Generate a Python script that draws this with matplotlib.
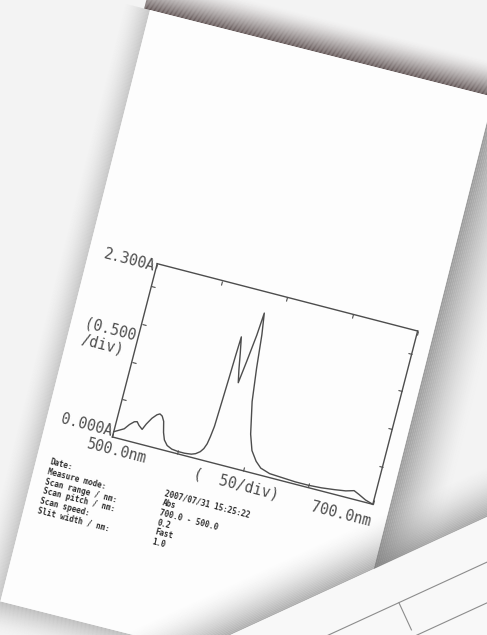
import numpy as np
import matplotlib
matplotlib.use('Agg')
import matplotlib.pyplot as plt
from matplotlib.patches import Polygon
from matplotlib.transforms import Affine2D
from mpl_toolkits.axisartist import floating_axes
from mpl_toolkits.axisartist.grid_finder import FixedLocator

# spectrum (nm, Abs)
wavelength = [500, 503, 507, 510, 513, 515, 517, 520, 522, 525, 528, 530, 532,
              534, 536, 538, 541, 545, 550, 555, 560, 563, 566, 568, 569.5,
              570.5, 571.5, 572.3, 573.0, 573.6, 574.2, 576.5, 578.5, 580.5,
              582.6, 585.0, 586.3, 588.6, 591.0, 594.0, 599.0, 603.0, 608.0,
              612.6, 620, 630, 640, 650, 660, 670, 678, 684, 688, 694, 700]
absorbance = [0.07, 0.10, 0.14, 0.21, 0.26, 0.27, 0.23, 0.19, 0.27, 0.36, 0.42,
              0.44, 0.42, 0.36, 0.22, 0.13, 0.07, 0.04, 0.03, 0.03, 0.04, 0.06,
              0.10, 0.15, 0.22, 0.32, 0.46, 0.80, 1.11, 1.42, 1.66, 1.45, 1.25,
              1.08, 1.37, 1.73, 2.03, 1.75, 1.32, 0.89, 0.48, 0.28, 0.16, 0.09,
              0.05, 0.04, 0.03, 0.03, 0.04, 0.06, 0.08, 0.11, 0.08, 0.03, 0.0]

x_range = (500, 700)
y_range = (0.0, 2.3)
x_ticks = [500, 550, 600, 650, 700]
y_ticks = [0.5, 1.0, 1.5, 2.0]

info_labels = ['Date:', 'Measure mode:', 'Scan range / nm:', 'Scan pitch / nm:',
               'Scan speed:', 'Slit width / nm:']
info_values = ['2007/07/31 15:25:22', 'Abs', '700.0 - 500.0', '0.2', 'Fast', '1.0']

W, H = 487, 635
ink = '#4d4d4d'
mono = 'DejaVu Sans Mono'

fig = plt.figure(figsize=(W / 100, H / 100), dpi=100, facecolor='#f3f3f3')

# ---- the photographed paper (pixel coordinates, y down) ----
bg = fig.add_axes([0, 0, 1, 1], zorder=0)
bg.set_xlim(0, W)
bg.set_ylim(H, 0)
bg.axis('off')


def band(ax, p0, p1, normal, width, color, alpha, n=30):
    p0, p1 = np.asarray(p0, float), np.asarray(p1, float)
    nrm = np.asarray(normal, float) / np.linalg.norm(normal)
    for i in range(n):
        d0, d1 = width * i / n, width * (i + 1) / n
        a = alpha * (1 - i / n) ** 1.6
        quad = [p0 + nrm * d0, p1 + nrm * d0, p1 + nrm * d1, p0 + nrm * d1]
        ax.add_patch(Polygon(quad, closed=True, fc=color, ec='none', alpha=a))


tilt = np.deg2rad(14.2)
along = np.array([np.cos(tilt), np.sin(tilt)])
down = np.array([-np.sin(tilt), np.cos(tilt)])
tl = np.array([150.0, 10.0])
paper = [tl, tl + 354 * along, tl + 354 * along + 610 * down, tl + 610 * down]

band(bg, paper[0] - 6 * along, paper[1], -down, 34, '#4a3b3b', 0.85)
band(bg, paper[0], paper[3], -along, 26, '#8f8f8f', 0.45)
band(bg, paper[1], paper[2], along, 55, '#7a7a7a', 0.7)
band(bg, paper[3], paper[2], down, 30, '#8a8a8a', 0.5)
bg.add_patch(Polygon(paper, closed=True, fc='#fdfdfd', ec='none'))

# second sheet lying over the bottom right corner
edge_pt = np.array([300.0, 603.0])
d2 = np.array([0.9086, -0.4179])
n2 = np.array([-0.4179, -0.9086])
q0, q1 = edge_pt - 220 * d2, edge_pt + 250 * d2
band(bg, q0, q1, n2, 45, '#6f6f6f', 0.55)
bg.add_patch(Polygon([q0, q1, q1 - 200 * n2, q0 - 200 * n2], closed=True,
                     fc='#f8f8f8', ec='none'))
for off in (41, 78):
    a, b = q0 - off * n2, q1 - off * n2
    bg.plot([a[0], b[0]], [a[1], b[1]], color='#8c8c8c', lw=0.8)
start = edge_pt + 90 * d2 - 41 * n2
stop = start - 30 * n2
bg.plot([start[0], stop[0]], [start[1], stop[1]], color='#8c8c8c', lw=0.8)

# ---- rotated spectrum chart ----
ANGLE = 14.5
BOX_W, BOX_H = 269, 179
tr = Affine2D().scale(BOX_W / (x_range[1] - x_range[0]),
                      BOX_H / (y_range[1] - y_range[0])).rotate_deg(-ANGLE)
ca, sa = np.cos(np.deg2rad(ANGLE)), np.sin(np.deg2rad(ANGLE))
bw = BOX_W * ca + BOX_H * sa
bh = BOX_W * sa + BOX_H * ca
cx, cy = 265, 384
rect = [(cx - 0.51 * bw) / W, 1 - (cy + 0.51 * bh) / H, 1.02 * bw / W, 1.02 * bh / H]

helper = floating_axes.GridHelperCurveLinear(
    tr, extremes=(x_range[0], x_range[1], y_range[0], y_range[1]),
    grid_locator1=FixedLocator(x_ticks), grid_locator2=FixedLocator(y_ticks))
ax = fig.add_axes(rect, axes_class=floating_axes.FloatingAxes,
                  grid_helper=helper, zorder=1)
ax.patch.set_visible(False)
for side in ['left', 'right', 'top', 'bottom']:
    ax.axis[side].line.set_color(ink)
    ax.axis[side].line.set_linewidth(1.0)
    ax.axis[side].major_ticklabels.set_visible(False)
    ax.axis[side].major_ticks.set_ticksize(3)
    ax.axis[side].major_ticks.set_color(ink)

aux = ax.get_aux_axes(tr)
aux.plot(wavelength, absorbance, color=ink, lw=1.0)

kw = dict(rotation=-ANGLE, rotation_mode='anchor', family=mono, color=ink)
aux.text(499, 2.25, '2.300A', ha='right', va='center', fontsize=10.5, **kw)
aux.text(499, 0.06, '0.000A', ha='right', va='center', fontsize=10.5, **kw)
aux.text(478.5, 1.22, '(0.500\n/div)', ha='center', va='center',
         multialignment='left', fontsize=10.5, **kw)
aux.text(506, -0.17, '500.0nm', ha='center', va='center', fontsize=10.5, **kw)
aux.text(598, -0.19, '(  50/div)', ha='center', va='center', fontsize=10.5, **kw)
aux.text(679, -0.22, '700.0nm', ha='center', va='center', fontsize=10.5, **kw)

small = dict(rotation=-ANGLE, rotation_mode='anchor', family=mono,
             color='#2e2e2e', fontsize=5.6, fontweight='bold', linespacing=1.15,
             ha='left', va='top')
aux.text(460, -0.45, '\n'.join(info_labels), **small)
aux.text(548, -0.47, '\n'.join(info_values), **small)

fig.savefig('out.png', dpi=100, facecolor=fig.get_facecolor())
